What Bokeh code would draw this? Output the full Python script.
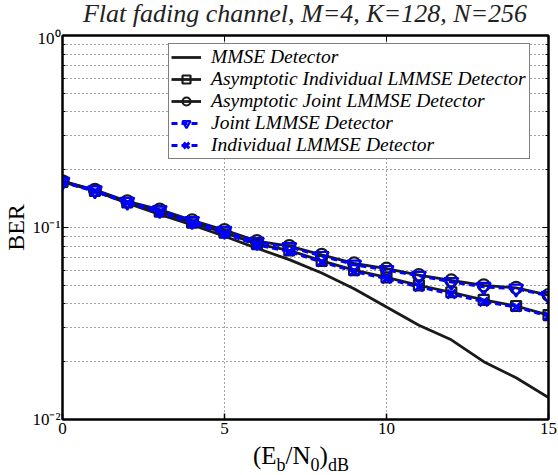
from bokeh.plotting import figure
from bokeh.layouts import column
from bokeh.models import (FixedTicker, Legend, LegendItem, LinearAxis,
                          LogAxis, Range1d, Div)
from bokeh.embed import file_html
from bokeh.resources import INLINE

# ---------------- data ----------------
snr_db = [0, 1, 2, 3, 4, 5, 6, 7, 8, 9, 10, 11, 12, 13, 14, 15]
ber_mmse = [0.175, 0.155, 0.134, 0.117, 0.103, 0.090, 0.078, 0.068,
            0.058, 0.048, 0.0385, 0.031, 0.026, 0.020, 0.0165, 0.013]
ber_asym_ind = [0.173, 0.155, 0.135, 0.121, 0.106, 0.094, 0.082, 0.076,
                0.067, 0.060, 0.055, 0.050, 0.046, 0.042, 0.039, 0.035]
ber_asym_joint = [0.174, 0.157, 0.137, 0.124, 0.109, 0.097, 0.085, 0.080,
                  0.072, 0.065, 0.061, 0.0565, 0.053, 0.050, 0.0485, 0.0445]
ber_joint = [0.173, 0.156, 0.136, 0.123, 0.108, 0.096, 0.084, 0.079,
             0.071, 0.064, 0.060, 0.056, 0.052, 0.049, 0.048, 0.044]
ber_ind = [0.172, 0.154, 0.134, 0.120, 0.105, 0.093, 0.081, 0.075,
           0.066, 0.059, 0.054, 0.049, 0.045, 0.041, 0.0385, 0.0345]

series_labels = ["MMSE Detector",
                 "Asymptotic Individual LMMSE Detector",
                 "Asymptotic Joint LMMSE Detector",
                 "Joint LMMSE Detector",
                 "Individual LMMSE Detector"]

x_ticks = [0, 5, 10, 15]
y_major = [0.01, 0.1, 1]
y_minor = [0.02, 0.03, 0.04, 0.05, 0.06, 0.07, 0.08, 0.09,
           0.2, 0.3, 0.4, 0.5, 0.6, 0.7, 0.8, 0.9]
y_tick_labels = {0.01: "10\u207b\u00b2", 0.1: "10\u207b\u00b9", 1: "10\u2070"}

title_text = "Flat fading channel, M=4, K=128, N=256"
ylabel_text = "BER"

SERIF = "Liberation Serif"
BLUE = "#0000ff"
INK = "#1a1a1a"

# ---------------- title (HTML block above the plot) ----------------
title_html = (
    '<div style="position:relative; width:558px; height:28px;">'
    '<span style="position:absolute; left:52px; top:0px; width:506px; '
    "text-align:center; font-family:'Liberation Serif'; font-style:italic; "
    'font-size:26px; line-height:28px; color:#222222; white-space:nowrap;">'
    f'{title_text}</span></div>'
)
title_div = Div(text=title_html, width=558, height=28, margin=0)

# ---------------- figure ----------------
p = figure(width=558, height=414, x_range=Range1d(0, 15),
           y_range=Range1d(0.01, 1), y_axis_type="log",
           output_backend="svg", toolbar_location=None,
           min_border_left=62, min_border_right=10,
           min_border_top=7, min_border_bottom=23)

p.background_fill_color = "white"
p.border_fill_color = "white"
p.outline_line_color = "black"
p.outline_line_width = 2

xt = FixedTicker(ticks=x_ticks)
yt = FixedTicker(ticks=y_major, minor_ticks=y_minor)

for ax in p.xaxis:
    ax.ticker = xt
    ax.major_tick_in = 6
    ax.major_tick_out = 0
    ax.minor_tick_line_color = None
    ax.axis_line_width = 2
    ax.major_tick_line_width = 1.5
    ax.major_label_text_font = SERIF
    ax.major_label_text_font_size = "17px"
    ax.major_label_text_color = "black"
    ax.major_label_standoff = 3

for ax in p.yaxis:
    ax.ticker = yt
    ax.major_tick_in = 6
    ax.major_tick_out = 0
    ax.minor_tick_in = 3
    ax.minor_tick_out = 0
    ax.axis_line_width = 2
    ax.major_label_text_font = SERIF
    ax.major_label_text_font_size = "17px"
    ax.major_label_text_color = "black"
    ax.major_label_standoff = 2
    ax.major_label_overrides = y_tick_labels
    ax.axis_label = ylabel_text
    ax.axis_label_text_font = SERIF
    ax.axis_label_text_font_style = "normal"
    ax.axis_label_text_font_size = "24px"
    ax.axis_label_text_color = "black"
    ax.axis_label_standoff = 0

top_ax = LinearAxis(ticker=xt, major_tick_in=6, major_tick_out=0,
                    minor_tick_line_color=None, axis_line_width=2,
                    major_label_text_font_size="0px", major_label_standoff=0)
top_ax.major_label_overrides = {t: "" for t in x_ticks}
p.add_layout(top_ax, "above")

right_ax = LogAxis(ticker=yt, major_tick_in=6, major_tick_out=0,
                   minor_tick_in=3, minor_tick_out=0, axis_line_width=2,
                   major_label_text_font_size="0px", major_label_standoff=0)
right_ax.major_label_overrides = {t: "" for t in y_major}
p.add_layout(right_ax, "right")

p.xgrid.ticker = xt
p.ygrid.ticker = yt
for g in (p.xgrid, p.ygrid):
    g.grid_line_color = "#444444"
    g.grid_line_dash = "1 3"
    g.grid_line_width = 1
p.ygrid.minor_grid_line_color = "#444444"
p.ygrid.minor_grid_line_dash = "1 3"
p.ygrid.minor_grid_line_width = 1

# ---------------- series ----------------
r_mmse = p.line(snr_db, ber_mmse, line_color=INK, line_width=2.8)

r_ai_l = p.line(snr_db, ber_asym_ind, line_color=INK, line_width=2.8)
r_ai_m = p.scatter(snr_db, ber_asym_ind, marker="square", size=10,
                   line_color=INK, line_width=2.2, fill_color=None)

r_aj_l = p.line(snr_db, ber_asym_joint, line_color=INK, line_width=2.8)
r_aj_m = p.scatter(snr_db, ber_asym_joint, marker="circle", size=12,
                   line_color=INK, line_width=2.2, fill_color=None)

r_j_l = p.line(snr_db, ber_joint, line_color=BLUE, line_width=2.8,
               line_dash="6 4")
r_j_m = p.scatter(snr_db, ber_joint, marker="inverted_triangle", size=14,
                  line_color=BLUE, line_width=2.2, fill_color=None)

r_i_l = p.line(snr_db, ber_ind, line_color=BLUE, line_width=2.8,
               line_dash="6 4")
r_i_m = p.scatter(snr_db, ber_ind, marker="x", size=12,
                  line_color=BLUE, line_width=3)

legend = Legend(items=[
    LegendItem(label=series_labels[0], renderers=[r_mmse]),
    LegendItem(label=series_labels[1], renderers=[r_ai_l, r_ai_m]),
    LegendItem(label=series_labels[2], renderers=[r_aj_l, r_aj_m]),
    LegendItem(label=series_labels[3], renderers=[r_j_l, r_j_m]),
    LegendItem(label=series_labels[4], renderers=[r_i_l, r_i_m]),
])
legend.location = (106, 260)
legend.margin = 0
legend.padding = 2
legend.spacing = 0
legend.glyph_width = 30
legend.glyph_height = 20
legend.label_height = 20
legend.label_width = 316
legend.label_standoff = 10
legend.label_text_font = SERIF
legend.label_text_font_style = "italic"
legend.label_text_font_size = "19.5px"
legend.label_text_color = "black"
legend.border_line_color = "black"
legend.border_line_width = 1
legend.background_fill_color = "white"
legend.background_fill_alpha = 1
p.add_layout(legend, "center")

# ---------------- x-axis label (with subscripts) ----------------
sub = "font-size:18px; vertical-align:-7px; line-height:0;"
xlabel_html = (
    '<div style="position:relative; width:558px; height:33px; '
    "font-family:'Liberation Serif'; color:black;\">"
    '<span style="position:absolute; left:253px; top:1px; font-size:25px; '
    'line-height:25px; white-space:nowrap;">'
    f'(E<sub style="{sub}">b</sub>/N<sub style="{sub}">0</sub>)'
    f'<sub style="{sub}">dB</sub></span></div>'
)
xlabel = Div(text=xlabel_html, width=558, height=33, margin=0)

layout = column(title_div, p, xlabel, spacing=0)

open("out.html", "w").write(file_html(layout, INLINE))
